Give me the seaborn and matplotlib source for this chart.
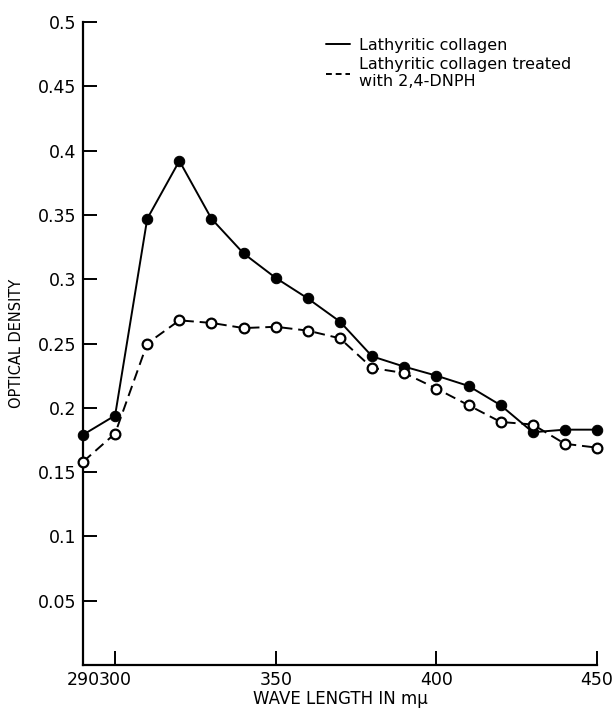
import matplotlib
matplotlib.use("Agg")
import matplotlib.pyplot as plt
import seaborn as sns
import pandas as pd
from matplotlib.lines import Line2D

wavelength = [290, 300, 310, 320, 330, 340, 350, 360, 370, 380, 390, 400, 410, 420, 430, 440, 450]
collagen = [0.179, 0.194, 0.347, 0.392, 0.347, 0.320, 0.301, 0.285, 0.267, 0.240, 0.232, 0.225, 0.217, 0.202, 0.181, 0.183, 0.183]
treated = [0.158, 0.180, 0.250, 0.268, 0.266, 0.262, 0.263, 0.260, 0.254, 0.231, 0.227, 0.215, 0.202, 0.189, 0.187, 0.172, 0.169]

x_ticks = [290, 300, 350, 400, 450]
y_ticks = [0.05, 0.1, 0.15, 0.2, 0.25, 0.3, 0.35, 0.4, 0.45, 0.5]
y_tick_labels = ["0.05", "0.1", "0.15", "0.2", "0.25", "0.3", "0.35", "0.4", "0.45", "0.5"]
labels = ["Lathyritic collagen", "Lathyritic collagen treated\nwith 2,4-DNPH"]

sns.set_style("white")
plt.rcParams["font.family"] = ["DejaVu Sans"]
plt.rcParams["text.color"] = "black"
plt.rcParams["axes.labelcolor"] = "black"

df1 = pd.DataFrame({"wl": wavelength, "od": collagen})
df2 = pd.DataFrame({"wl": wavelength, "od": treated})

fig = plt.figure(figsize=(6.16, 7.19), dpi=100)
ax = fig.add_axes([0.1347, 0.0751, 0.8345, 0.8943])

sns.lineplot(data=df1, x="wl", y="od", ax=ax, color="black", linewidth=1.4,
             marker="o", markersize=7.5, markerfacecolor="black", markeredgecolor="black",
             clip_on=False, zorder=3)
sns.lineplot(data=df2, x="wl", y="od", ax=ax, color="black", linewidth=1.4,
             linestyle=(0, (5.5, 3)), marker="o", markersize=7, markerfacecolor="white",
             markeredgecolor="black", markeredgewidth=1.6, clip_on=False, zorder=4)

ax.set_xlim(290, 450)
ax.set_ylim(0, 0.5)
ax.set_xticks(x_ticks)
ax.set_xticklabels([str(t) for t in x_ticks])
ax.set_yticks(y_ticks)
ax.set_yticklabels(y_tick_labels)
ax.tick_params(axis="both", direction="in", length=10, width=1.4, labelsize=12.5,
               colors="black", left=True, bottom=True)
ax.tick_params(axis="x", pad=4)
ax.tick_params(axis="y", pad=5)
for side in ["top", "right"]:
    ax.spines[side].set_visible(False)
for side in ["left", "bottom"]:
    ax.spines[side].set_linewidth(1.6)
    ax.spines[side].set_color("black")

ax.set_xlabel("WAVE LENGTH IN m\u03bc", fontsize=12, labelpad=1)
ax.set_ylabel("OPTICAL DENSITY", fontsize=10.5, labelpad=10)

handles = [Line2D([], [], color="black", linewidth=1.4),
           Line2D([], [], color="black", linewidth=1.4, linestyle=(0, (3, 2)))]
leg = ax.legend(handles, labels, loc="upper left", bbox_to_anchor=(0.46, 0.985),
                frameon=False, fontsize=11.5, handlelength=1.5, handletextpad=0.6,
                labelspacing=0.25, borderaxespad=0)
for t in leg.get_texts():
    t.set_color("black")

fig.savefig("out.png", dpi=100)
